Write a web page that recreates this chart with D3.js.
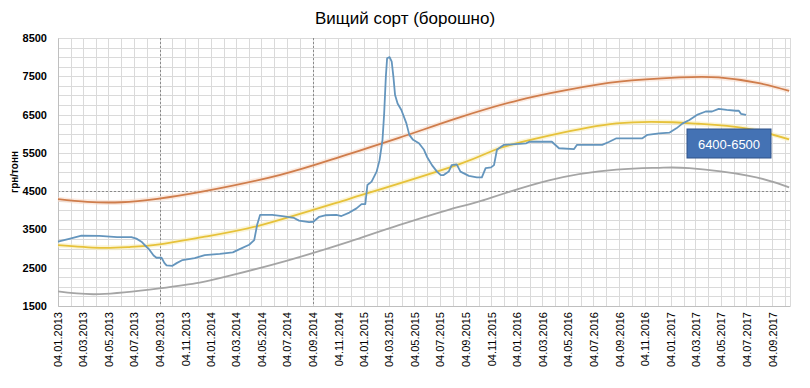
<!DOCTYPE html>
<html>
<head>
<meta charset="utf-8">
<script src="https://cdn.jsdelivr.net/npm/d3@7"></script>
<style>
  body { margin: 0; background: #fff; }
  svg { font-family: "Liberation Sans", Arial, sans-serif; }
</style>
</head>
<body>
<div id="chart"></div>
<script>
// price of flour (вищий сорт), грн/тонн
const priceData = [
  ["2013-01-04", 3180], ["2013-02-02", 3260], ["2013-03-01", 3340], ["2013-04-13", 3330],
  ["2013-05-25", 3300], ["2013-06-28", 3300], ["2013-07-10", 3260], ["2013-07-22", 3180],
  ["2013-07-29", 3100], ["2013-08-10", 2970], ["2013-08-20", 2820], ["2013-08-27", 2760],
  ["2013-09-08", 2760], ["2013-09-15", 2620], ["2013-09-20", 2560], ["2013-10-04", 2550],
  ["2013-10-14", 2620], ["2013-10-28", 2700], ["2013-11-26", 2750], ["2013-12-20", 2830],
  ["2014-01-25", 2860], ["2014-02-25", 2900], ["2014-03-12", 2980], ["2014-04-05", 3100],
  ["2014-04-17", 3220], ["2014-04-24", 3620], ["2014-05-01", 3880], ["2014-05-30", 3880],
  ["2014-06-23", 3850], ["2014-07-21", 3800], ["2014-08-02", 3730], ["2014-08-26", 3690],
  ["2014-09-05", 3700], ["2014-09-19", 3830], ["2014-10-03", 3870], ["2014-10-30", 3880],
  ["2014-11-11", 3850], ["2014-11-30", 3940], ["2014-12-17", 4050], ["2014-12-29", 4160],
  ["2015-01-07", 4160], ["2015-01-12", 4660], ["2015-01-22", 4750], ["2015-02-03", 5010],
  ["2015-02-10", 5310], ["2015-02-17", 5840], ["2015-02-21", 6530], ["2015-02-25", 7490],
  ["2015-02-28", 7970], ["2015-03-06", 8000], ["2015-03-11", 7880], ["2015-03-15", 7490],
  ["2015-03-19", 7010], ["2015-03-25", 6790], ["2015-04-03", 6620], ["2015-04-15", 6270],
  ["2015-04-22", 5970], ["2015-05-01", 5840], ["2015-05-15", 5750], ["2015-05-27", 5580],
  ["2015-06-03", 5400], ["2015-06-15", 5180], ["2015-06-27", 5010], ["2015-07-06", 4920],
  ["2015-07-13", 4920], ["2015-07-25", 5010], ["2015-08-01", 5180], ["2015-08-13", 5200],
  ["2015-08-22", 5010], ["2015-09-11", 4900], ["2015-09-30", 4860], ["2015-10-12", 4860],
  ["2015-10-21", 5100], ["2015-11-03", 5120], ["2015-11-10", 5180], ["2015-11-17", 5580],
  ["2015-11-27", 5660], ["2015-12-04", 5710], ["2016-01-26", 5750], ["2016-02-02", 5790],
  ["2016-03-27", 5790], ["2016-04-13", 5620], ["2016-05-19", 5600], ["2016-05-26", 5710],
  ["2016-07-25", 5710], ["2016-08-11", 5790], ["2016-08-28", 5880], ["2016-10-29", 5880],
  ["2016-11-10", 5970], ["2016-12-08", 6010], ["2017-01-02", 6030], ["2017-01-18", 6140],
  ["2017-02-02", 6270], ["2017-02-18", 6360], ["2017-03-08", 6490], ["2017-03-29", 6580],
  ["2017-04-13", 6580], ["2017-04-29", 6650], ["2017-05-18", 6620], ["2017-06-09", 6600],
  ["2017-06-16", 6600], ["2017-06-21", 6520], ["2017-07-03", 6490]
];

// trend curves
const upperTrend = [
  ["2013-01-04", 4290], ["2013-03-15", 4220], ["2013-06-04", 4210], ["2013-08-29", 4300],
  ["2013-12-20", 4500], ["2014-06-16", 4920], ["2014-11-06", 5390], ["2015-03-28", 5890],
  ["2015-08-18", 6420], ["2016-01-09", 6880], ["2016-04-30", 7140], ["2016-09-04", 7360],
  ["2017-01-25", 7470], ["2017-04-29", 7470], ["2017-08-03", 7320], ["2017-10-14", 7120]
];
const midTrend = [
  ["2013-01-04", 3090], ["2013-04-13", 3020], ["2013-06-23", 3040], ["2013-09-03", 3110],
  ["2013-12-20", 3310], ["2014-04-29", 3600], ["2014-11-30", 4300], ["2015-08-18", 5200],
  ["2015-11-22", 5620], ["2016-03-20", 5950], ["2016-08-28", 6270], ["2017-01-09", 6300],
  ["2017-03-12", 6260], ["2017-07-03", 6140], ["2017-10-14", 5850]
];
const lowerTrend = [
  ["2013-01-04", 1880], ["2013-04-13", 1810], ["2013-09-03", 1960], ["2013-12-08", 2110],
  ["2014-02-25", 2310], ["2014-07-09", 2700], ["2014-11-30", 3180], ["2015-03-28", 3610],
  ["2015-08-18", 4090], ["2015-10-12", 4250], ["2016-03-20", 4780], ["2016-08-28", 5060],
  ["2016-12-08", 5110], ["2017-02-18", 5100], ["2017-07-10", 4900], ["2017-10-14", 4600]
];

const yTicks = [1500, 2500, 3500, 4500, 5500, 6500, 7500, 8500];
const xTicks = [
  "2013-01-04", "2013-03-04", "2013-05-04", "2013-07-04", "2013-09-04", "2013-11-04",
  "2014-01-04", "2014-03-04", "2014-05-04", "2014-07-04", "2014-09-04", "2014-11-04",
  "2015-01-04", "2015-03-04", "2015-05-04", "2015-07-04", "2015-09-04", "2015-11-04",
  "2016-01-04", "2016-03-04", "2016-05-04", "2016-07-04", "2016-09-04", "2016-11-04",
  "2017-01-04", "2017-03-04", "2017-05-04", "2017-07-04", "2017-09-04"
];
const markerDates = ["2013-09-04", "2014-09-04"];
const markerLevels = [4500];
const title = "Вищий сорт (борошно)";
const yTitle = "грн/тонн";
const boxLabel = "6400-6500";

const parse = d3.timeParse("%Y-%m-%d");
const W = 810, H = 388;
const margin = {top: 38, right: 20, bottom: 82, left: 58};

const svg = d3.select("#chart").append("svg")
    .attr("width", W)
    .attr("height", H);

const x = d3.scaleTime()
    .domain([parse("2013-01-04"), parse("2017-10-16")])
    .range([margin.left, W - margin.right]);
const y = d3.scaleLinear()
    .domain([1500, 8500])
    .range([H - margin.bottom, margin.top]);

// grid
const grid = svg.append("g");
grid.selectAll("line.h").data(d3.range(1500, 8501, 250))
    .join("line")
        .attr("x1", x.range()[0]).attr("x2", x.range()[1])
        .attr("y1", d => Math.round(y(d)) + 0.5).attr("y2", d => Math.round(y(d)) + 0.5)
        .attr("stroke", "#dadada");
let months = d3.range(0, 58).map(i => new Date(2013, i, 4));
grid.selectAll("line.v").data(months)
    .join("line")
        .attr("x1", d => Math.round(x(d)) + 0.5).attr("x2", d => Math.round(x(d)) + 0.5)
        .attr("y1", y.range()[1]).attr("y2", y.range()[0])
        .attr("stroke", "#dadada");
grid.append("line")
    .attr("x1", x.range()[1] + 0.5).attr("x2", x.range()[1] + 0.5)
    .attr("y1", y.range()[1]).attr("y2", y.range()[0])
    .attr("stroke", "#dadada");

// dashed markers
grid.selectAll("line.mv").data(markerDates)
    .join("line")
        .attr("x1", d => Math.round(x(parse(d))) + 0.5).attr("x2", d => Math.round(x(parse(d))) + 0.5)
        .attr("y1", y.range()[1]).attr("y2", y.range()[0])
        .attr("stroke", "#8a8a8a")
        .attr("stroke-dasharray", "2,2");
grid.selectAll("line.mh").data(markerLevels)
    .join("line")
        .attr("x1", x.range()[0]).attr("x2", x.range()[1])
        .attr("y1", d => Math.round(y(d)) + 0.5).attr("y2", d => Math.round(y(d)) + 0.5)
        .attr("stroke", "#8a8a8a")
        .attr("stroke-dasharray", "2,2");

// axes
svg.append("g")
    .attr("transform", `translate(0,${y.range()[0]})`)
    .call(d3.axisBottom(x).tickValues(xTicks.map(parse))
        .tickFormat(d3.timeFormat("%d.%m.%Y")).tickSize(0))
    .call(g => g.select(".domain").attr("stroke", "#bfbfbf"))
    .selectAll("text")
        .attr("transform", "rotate(-90)")
        .attr("text-anchor", "end")
        .attr("x", -6)
        .attr("y", 0)
        .attr("dy", "0.35em")
        .attr("fill", "#000")
        .style("font-size", "11px");

svg.append("g")
    .attr("transform", `translate(${x.range()[0]},0)`)
    .call(d3.axisLeft(y).tickValues(yTicks).tickFormat(d3.format("d")).tickSize(0).tickPadding(11))
    .call(g => g.select(".domain").attr("stroke", "#bfbfbf"))
    .selectAll("text")
        .attr("fill", "#000")
        .style("font-size", "11px")
        .style("font-weight", "bold");

// lines
const line = d3.line()
    .x(d => x(parse(d[0])))
    .y(d => y(d[1]));
const smooth = d3.line()
    .x(d => x(parse(d[0])))
    .y(d => y(d[1]))
    .curve(d3.curveNatural);

const trends = [
    {data: upperTrend, color: "#cf7d4c", glow: "#f8dccb"},
    {data: midTrend, color: "#e6c23a", glow: "#f9eec0"},
    {data: lowerTrend, color: "#a5a5a5", glow: null}
];
trends.forEach(t => {
    if (t.glow) {
        svg.append("path").attr("d", smooth(t.data))
            .attr("fill", "none").attr("stroke", t.glow)
            .attr("stroke-width", 5).attr("opacity", 0.6);
    }
    svg.append("path").attr("d", smooth(t.data))
        .attr("fill", "none").attr("stroke", t.color)
        .attr("stroke-width", 1.8);
});

svg.append("path").attr("d", line(priceData))
    .attr("fill", "none")
    .attr("stroke", "#6495bd")
    .attr("stroke-width", 1.8)
    .attr("stroke-linejoin", "round");

// label box
const box = svg.append("g").attr("transform", "translate(687,129)");
box.append("rect")
    .attr("width", 84).attr("height", 29)
    .attr("fill", "#4472b4")
    .attr("stroke", "#2f5289");
box.append("text")
    .attr("x", 42).attr("y", 15).attr("dy", "0.35em")
    .attr("text-anchor", "middle")
    .attr("fill", "#fff")
    .style("font-size", "13px")
    .text(boxLabel);

// titles
svg.append("text")
    .attr("x", 405).attr("y", 24)
    .attr("text-anchor", "middle")
    .style("font-size", "17px")
    .text(title);
svg.append("text")
    .attr("transform", `translate(18,${(y.range()[0] + y.range()[1]) / 2}) rotate(-90)`)
    .attr("text-anchor", "middle")
    .style("font-size", "10px")
    .style("font-weight", "bold")
    .text(yTitle);
</script>
</body>
</html>
